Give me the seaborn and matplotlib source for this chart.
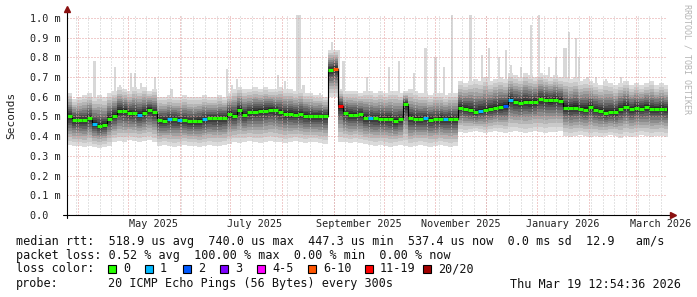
import numpy as np
import pandas as pd
import matplotlib
matplotlib.use("Agg")
import matplotlib.pyplot as plt
import matplotlib.dates as mdates
from matplotlib.patches import Rectangle
from matplotlib.lines import Line2D
import seaborn as sns

# ---------------- data ----------------
start = pd.Timestamp("2025-03-25 12:00")
end = pd.Timestamp("2026-03-19 12:54")
sample_dates = pd.date_range(start, periods=120, freq="3D")

median_ms = [
    0.500, 0.482, 0.480, 0.480, 0.492, 0.462, 0.452, 0.455, 0.488, 0.505,
    0.530, 0.528, 0.518, 0.516, 0.510, 0.518, 0.535, 0.522, 0.480, 0.478,
    0.485, 0.485, 0.482, 0.480, 0.476, 0.475, 0.478, 0.485, 0.490, 0.490,
    0.490, 0.492, 0.515, 0.505, 0.535, 0.510, 0.522, 0.525, 0.528, 0.530,
    0.535, 0.532, 0.522, 0.515, 0.515, 0.510, 0.512, 0.505, 0.500, 0.500,
    0.502, 0.500, 0.736, 0.740, 0.553, 0.517, 0.510, 0.508, 0.512, 0.492,
    0.490, 0.490, 0.488, 0.488, 0.485, 0.475, 0.485, 0.562, 0.490, 0.488,
    0.486, 0.490, 0.484, 0.485, 0.487, 0.485, 0.486, 0.485, 0.543, 0.540,
    0.535, 0.522, 0.530, 0.532, 0.540, 0.545, 0.548, 0.552, 0.584, 0.572,
    0.570, 0.575, 0.572, 0.575, 0.588, 0.585, 0.582, 0.585, 0.580, 0.545,
    0.542, 0.545, 0.540, 0.535, 0.548, 0.535, 0.530, 0.520, 0.525, 0.522,
    0.540, 0.550, 0.538, 0.545, 0.540, 0.548, 0.540, 0.538, 0.540, 0.537,
]

loss = [
    0, 0, 0, 0, 0, 1, 0, 0, 0, 0, 0, 0, 0, 0, 1, 0, 0, 0, 0, 0,
    1, 0, 1, 0, 0, 0, 0, 1, 0, 0, 0, 0, 0, 0, 0, 0, 0, 0, 0, 0,
    0, 0, 0, 0, 0, 0, 0, 0, 0, 0, 0, 0, 0, 8, 12, 0, 0, 0, 0, 0,
    1, 0, 0, 0, 0, 0, 0, 0, 0, 0, 0, 1, 0, 0, 0, 1, 0, 0, 0, 0,
    0, 0, 1, 0, 0, 0, 0, 2, 1, 0, 0, 0, 0, 0, 0, 0, 0, 0, 0, 0,
    0, 0, 0, 0, 0, 0, 0, 0, 0, 0, 0, 0, 0, 0, 0, 0, 0, 0, 0, 0,
]

smoke_hi = [
    0.62, 0.59, 0.60, 0.61, 0.62, 0.60, 0.61, 0.60, 0.62,
    0.63, 0.65, 0.64, 0.63, 0.65, 0.64, 0.65, 0.63, 0.64,
    0.60, 0.60, 0.61, 0.60, 0.60, 0.61, 0.60, 0.60, 0.60, 0.61, 0.60, 0.60, 0.61, 0.60, 0.62,
    0.64, 0.65, 0.64, 0.64, 0.65, 0.64, 0.65, 0.64, 0.64, 0.65, 0.64, 0.64, 0.63, 0.64, 0.62, 0.62, 0.61, 0.61,
    0.60,
    0.84, 0.84,
    0.64,
    0.63, 0.63, 0.63, 0.62, 0.63, 0.63, 0.62, 0.63, 0.62, 0.63, 0.63, 0.62, 0.63, 0.64, 0.63, 0.62,
    0.62, 0.61, 0.62, 0.62, 0.61, 0.62, 0.62,
    0.68, 0.67, 0.68, 0.69, 0.68, 0.70, 0.68, 0.69, 0.70, 0.69,
    0.72, 0.71, 0.70, 0.72, 0.71, 0.70, 0.72, 0.71, 0.70, 0.71, 0.70,
    0.70, 0.69, 0.70, 0.68, 0.69, 0.68,
    0.67, 0.66, 0.68, 0.67, 0.66, 0.67, 0.68, 0.66, 0.67, 0.66, 0.67, 0.68, 0.66, 0.67, 0.66,
]

smoke_lo = [
    0.355, 0.35, 0.35, 0.345, 0.35, 0.345, 0.34, 0.345, 0.35,
    0.37, 0.375, 0.37, 0.38, 0.375, 0.37, 0.375, 0.38, 0.37,
    0.35, 0.355, 0.35, 0.345, 0.35, 0.355, 0.35, 0.35, 0.345, 0.35, 0.355, 0.35, 0.35, 0.355, 0.36,
    0.37, 0.365, 0.37, 0.375, 0.37, 0.365, 0.37, 0.375, 0.37, 0.37, 0.365, 0.37, 0.375, 0.37, 0.365, 0.37, 0.37, 0.365,
    0.36,
    0.60, 0.60,
    0.37,
    0.37, 0.365, 0.37, 0.365, 0.36, 0.355, 0.35, 0.355, 0.35, 0.345, 0.35, 0.355, 0.35, 0.345, 0.35, 0.355,
    0.35, 0.345, 0.35, 0.355, 0.35, 0.345, 0.35,
    0.42, 0.415, 0.42, 0.425, 0.42, 0.415, 0.42, 0.425, 0.42, 0.415,
    0.42, 0.425, 0.42, 0.415, 0.42, 0.425, 0.42, 0.415, 0.42, 0.42, 0.425,
    0.40, 0.395, 0.40, 0.405, 0.40, 0.395,
    0.40, 0.395, 0.40, 0.405, 0.40, 0.39, 0.40, 0.395, 0.40, 0.405, 0.40, 0.395, 0.40, 0.40, 0.395,
]

spike_dates = [
    "2025-04-11", "2025-04-23", "2025-04-26", "2025-05-03", "2025-05-05", "2025-05-09",
    "2025-05-17", "2025-05-27", "2025-06-29", "2025-07-02", "2025-07-05", "2025-07-30",
    "2025-08-03", "2025-08-10", "2025-08-11", "2025-08-12", "2025-08-14", "2025-08-24",
    "2025-08-31", "2025-09-04", "2025-09-07", "2025-09-21", "2025-10-04", "2025-10-10",
    "2025-10-19", "2025-10-26", "2025-11-01", "2025-11-06", "2025-11-11", "2025-11-22",
    "2025-11-29", "2025-12-03", "2025-12-09", "2025-12-13", "2025-12-16", "2025-12-22",
    "2025-12-28", "2026-01-02", "2026-01-08", "2026-01-12", "2026-01-17", "2026-01-18",
    "2026-01-20", "2026-01-24", "2026-01-26", "2026-01-31", "2026-02-05", "2026-02-11",
    "2026-02-20",
]
spike_top_ms = [
    0.78, 0.75, 0.66, 0.72, 0.72, 0.67,
    0.70, 0.64, 0.74, 0.66, 0.69, 0.71,
    0.68, 1.015, 1.015, 1.015, 0.66, 0.62,
    0.88, 0.84, 0.78, 0.70, 0.75, 0.78,
    0.72, 0.85, 0.80, 0.75, 1.015, 1.015,
    0.81, 0.85, 0.80, 0.84, 0.76, 0.75,
    0.965, 1.015, 0.75, 0.80, 0.85, 0.85,
    0.93, 0.90, 0.80, 0.70, 0.70, 0.69,
    0.70,
]

month_labels = ["May 2025", "July 2025", "September 2025", "November 2025",
                "January 2026", "March 2026"]
month_label_dates = ["2025-05-16", "2025-07-16", "2025-09-16", "2025-11-16",
                     "2026-01-16", "2026-03-16"]
y_ticks = [0.0, 0.1, 0.2, 0.3, 0.4, 0.5, 0.6, 0.7, 0.8, 0.9, 1.0]

loss_labels = ["0", "1", "2", "3", "4-5", "6-10", "11-19", "20/20"]
loss_colors = ["#26ff00", "#00b8ff", "#0059ff", "#7e00ff", "#ff00ff",
               "#ff5500", "#ff0000", "#a00000"]

line_rtt = "median rtt:  518.9 us avg  740.0 us max  447.3 us min  537.4 us now  0.0 ms sd  12.9   am/s"
line_loss = "packet loss: 0.52 % avg  100.00 % max  0.00 % min  0.00 % now"
probe_text = "20 ICMP Echo Pings (56 Bytes) every 300s"
stamp_text = "Thu Mar 19 12:54:36 2026"

# ---------------- drawing ----------------
sns.set_theme(style="white")
MONO = ["DejaVu Sans Mono", "DejaVu Sans"]
plt.rcParams["font.family"] = MONO

W, H = 697, 297
fig = plt.figure(figsize=(W / 100, H / 100), dpi=100, facecolor="white")
ax = fig.add_axes([67 / W, (H - 215) / H, 600 / W, 200 / H])
ax.set_facecolor("white")


def fx(x):
    return x / W


def fy(y):
    return 1 - y / H


t0 = mdates.date2num(sample_dates)
edges = np.append(t0, t0[-1] + 3.0)
med = np.array(median_ms)
lo = np.array(smoke_lo)
hi = np.array(smoke_hi)


def ext(a):
    return np.append(a, a[-1])


# spikes (outlier pings) behind the smoke
sd = mdates.date2num(pd.to_datetime(spike_dates))
ax.bar(sd, np.array(spike_top_ms) - 0.6, bottom=0.6, width=1.3,
       color="#d8d8d8", linewidth=0, zorder=1)

# smoke layers, light outer to dark inner
fractions = [1.0, 0.85, 0.72, 0.60, 0.50, 0.40, 0.31, 0.22, 0.14, 0.07]
grays = [0.86, 0.79, 0.71, 0.63, 0.55, 0.47, 0.39, 0.31, 0.23, 0.15]
for f, g in zip(fractions, grays):
    ax.fill_between(edges, ext(med - f * (med - lo)), ext(med + f * (hi - med)),
                    step="post", color=str(g), linewidth=0, zorder=2)

# grid on top of smoke
dot = (0, (1, 2))
for d in pd.date_range(start.normalize(), end, freq="W-MON"):
    ax.axvline(mdates.date2num(d), color="#c8c8c8", lw=0.72, ls=dot, zorder=3)
for d in pd.date_range("2025-04-01", end, freq="MS"):
    ax.axvline(mdates.date2num(d), color="#e39a9a", lw=0.72, ls=dot, zorder=3)
for yv in y_ticks[1:]:
    ax.axhline(yv, color="#e39a9a", lw=0.72, ls=dot, zorder=3)

# median: thin black step line + loss-coloured segments
sns.lineplot(x=edges, y=ext(med), drawstyle="steps-post", color="black",
             lw=0.8, ax=ax, estimator=None, zorder=4)


def loss_bin(n):
    if n <= 3:
        return n
    if n <= 5:
        return 4
    if n <= 10:
        return 5
    if n <= 19:
        return 6
    return 7


seg_colors = [loss_colors[loss_bin(n)] for n in loss]
ax.hlines(med, t0, t0 + 3.0, colors=seg_colors, lw=2.2, zorder=5)

ax.set_xlim(mdates.date2num(start), mdates.date2num(end))
ax.set_ylim(0, 200 / 197)
for s in ax.spines.values():
    s.set_visible(False)
ax.grid(False)

ax.set_yticks(y_ticks)
ax.set_yticklabels(["0.0  " if v == 0 else f"{v:.1f} m" for v in y_ticks])
ax.set_xticks(mdates.date2num(pd.to_datetime(month_label_dates)))
ax.set_xticklabels(month_labels)
ax.tick_params(axis="both", length=0, labelsize=7.3, colors="#222222")
ax.tick_params(axis="y", pad=4.5)
ax.tick_params(axis="x", pad=3)
ax.set_xlabel("")
ax.set_ylabel("")

# axes lines with arrows
fig.add_artist(Line2D([fx(63), fx(672)], [fy(215), fy(215)], color="black", lw=0.8))
fig.add_artist(Line2D([fx(67), fx(67)], [fy(218), fy(12)], color="black", lw=0.8))
fig.add_artist(Line2D([fx(673)], [fy(215)], marker=">", color="#8b1010", ms=4.5, lw=0))
fig.add_artist(Line2D([fx(67)], [fy(9)], marker="^", color="#8b1010", ms=4.5, lw=0))

# titles / side labels
fig.text(fx(11), fy(115), "Seconds", rotation=90, ha="center", va="center",
         fontsize=8, color="#222222")
fig.text(fx(687), fy(4), "RRDTOOL / TOBI OETIKER", rotation=270, ha="center",
         va="top", fontsize=6, color="#b4b4b4")

# legend area
LS = 8.5
fig.text(fx(16), fy(241), line_rtt, ha="left", va="center", fontsize=LS, color="#111111")
fig.text(fx(16), fy(255), line_loss, ha="left", va="center", fontsize=LS, color="#111111")
fig.text(fx(16), fy(269), "loss color:", ha="left", va="center", fontsize=LS, color="#111111")
box_x = [108, 145, 183, 220, 257, 308, 365, 423]
for bx, lab, col in zip(box_x, loss_labels, loss_colors):
    fig.add_artist(Rectangle((fx(bx), fy(273)), 8 / W, 8 / H, transform=fig.transFigure,
                             facecolor=col, edgecolor="black", lw=0.8))
    fig.text(fx(bx + 15), fy(269), lab, ha="left", va="center", fontsize=LS, color="#111111")
fig.text(fx(16), fy(284), "probe:", ha="left", va="center", fontsize=LS, color="#111111")
fig.text(fx(108), fy(284), probe_text, ha="left", va="center", fontsize=LS, color="#111111")
fig.text(fx(681), fy(284), stamp_text, ha="right", va="center", fontsize=LS, color="#111111")

fig.savefig("out.png", dpi=100, facecolor="white")
